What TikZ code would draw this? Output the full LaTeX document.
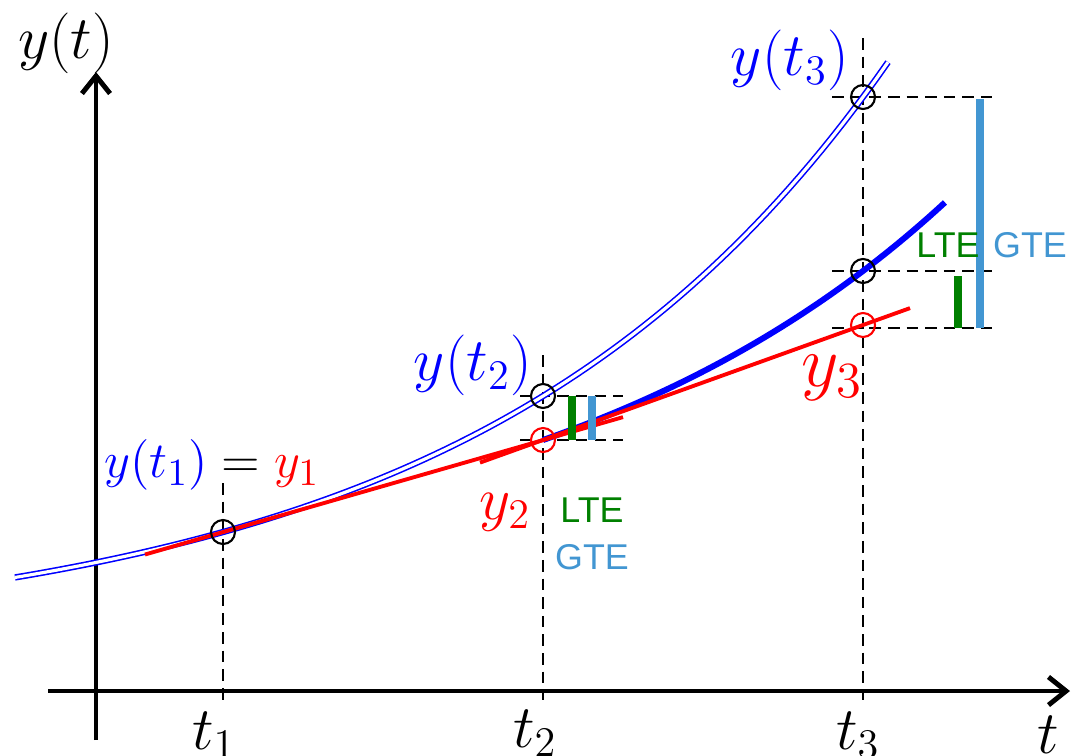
\documentclass[tikz,border=0pt]{standalone}
\usepackage{fontspec}
\setsansfont{Liberation Sans}
\usetikzlibrary{arrows.meta}
\definecolor{ltegreen}{RGB}{0,128,0}
\definecolor{gteblue}{RGB}{66,150,210}
\begin{document}
\begin{tikzpicture}[x=1cm,y=1cm,
  axis/.style={line width=1.4pt,-{Straight Barb[length=5pt,width=8pt,line width=1.4pt]}},
  guide/.style={line width=0.6pt,dash pattern=on 3.3pt off 2pt},
  exact/.style={draw=blue,double=white,line width=0.45pt,double distance=0.9pt},
  local/.style={draw=blue,line width=1.7pt},
  euler/.style={draw=red,line width=1.1pt},
  pt/.style={circle,draw,line width=0.6pt,minimum size=0.24cm,inner sep=0pt},
  lab/.style={font=\fontsize{17.5}{20}\selectfont,inner sep=1pt},
  err/.style={font=\sffamily\fontsize{10.2}{12}\selectfont,inner sep=1pt},
  ltebar/.style={draw=ltegreen,line width=2.1pt},
  gtebar/.style={draw=gteblue,line width=2.1pt}]
\useasboundingbox (0,0) rectangle (10.78,7.55);

% key points
\coordinate (P1) at (2.23,2.23);
\coordinate (E2) at (5.43,3.59);
\coordinate (Y2) at (5.43,3.15);
\coordinate (E3) at (8.63,6.58);
\coordinate (L3) at (8.63,4.84);
\coordinate (Y3) at (8.63,4.30);

% vertical guides
\draw[guide] (2.23,2.72) -- (2.23,0.55);
\draw[guide] (5.43,4.00) -- (5.43,0.55);
\draw[guide] (8.63,7.17) -- (8.63,0.55);
% horizontal guides
\draw[guide] (5.20,3.59) -- (6.23,3.59);
\draw[guide] (5.20,3.15) -- (6.23,3.15);
\draw[guide] (8.32,6.58) -- (9.92,6.58);
\draw[guide] (8.32,4.84) -- (9.92,4.84);
\draw[guide] (8.32,4.27) -- (9.92,4.27);

% axes
\draw[axis] (0.48,0.64) -- (10.70,0.64);
\draw[axis] (0.96,0.15) -- (0.96,6.83);

% exact solution
\draw[exact] plot[domain=0.15:8.88,samples=80] (\x,{1.097+0.654*exp(0.2464*\x)});
% local solution through y2
\draw[local] plot[domain=5.43:9.45,samples=50] (\x,{3.15+1.463*(exp(0.24*(\x-5.43))-1)});
% Euler steps
\draw[euler] (1.45,2.005) -- (6.23,3.379);
\draw[euler] (4.80,2.924) -- (9.10,4.469);

% error bars
\draw[ltebar] (5.72,3.59) -- (5.72,3.15);
\draw[gtebar] (5.92,3.59) -- (5.92,3.15);
\draw[ltebar] (9.58,4.79) -- (9.58,4.27);
\draw[gtebar] (9.80,6.56) -- (9.80,4.27);

% points
\node[pt] (c1) at (P1) {};
\node[pt] (c2) at (E2) {};
\node[pt,draw=red] (c3) at (Y2) {};
\node[pt] (c4) at (E3) {};
\node[pt] (c5) at (L3) {};
\node[pt,draw=red] (c6) at (Y3) {};

% labels
\node[lab,font=\fontsize{19}{22}\selectfont] (ly) at (0.66,7.12) {$y(t)$};
\node[lab] (lt) at (10.48,0.20) {$t$};
\node[lab] (t1) at (2.14,0.20) {$t_1$};
\node[lab] (t2) at (5.35,0.22) {$t_2$};
\node[lab] (t3) at (8.58,0.20) {$t_3$};
\node[lab,font=\fontsize{15.5}{18}\selectfont] (ly1) at (2.12,2.90) {$\color{blue}y(t_1)\color{black}=\color{red}y_1$};
\node[lab,text=blue] (ly2) at (4.73,3.90) {$y(t_2)$};
\node[lab,text=blue] (ly3) at (7.90,6.95) {$y(t_3)$};
\node[lab,text=red] (lY2) at (5.05,2.43) {$y_2$};
\node[lab,text=red,font=\fontsize{19.5}{22}\selectfont] (lY3) at (8.32,3.77) {$y_3$};
\node[err,text=ltegreen] (lte1) at (5.92,2.45) {LTE};
\node[err,text=gteblue] (gte1) at (5.92,1.98) {GTE};
\node[err,text=ltegreen] (lte2) at (9.48,5.10) {LTE};
\node[err,text=gteblue] (gte2) at (10.30,5.10) {GTE};
\end{tikzpicture}
\end{document}
